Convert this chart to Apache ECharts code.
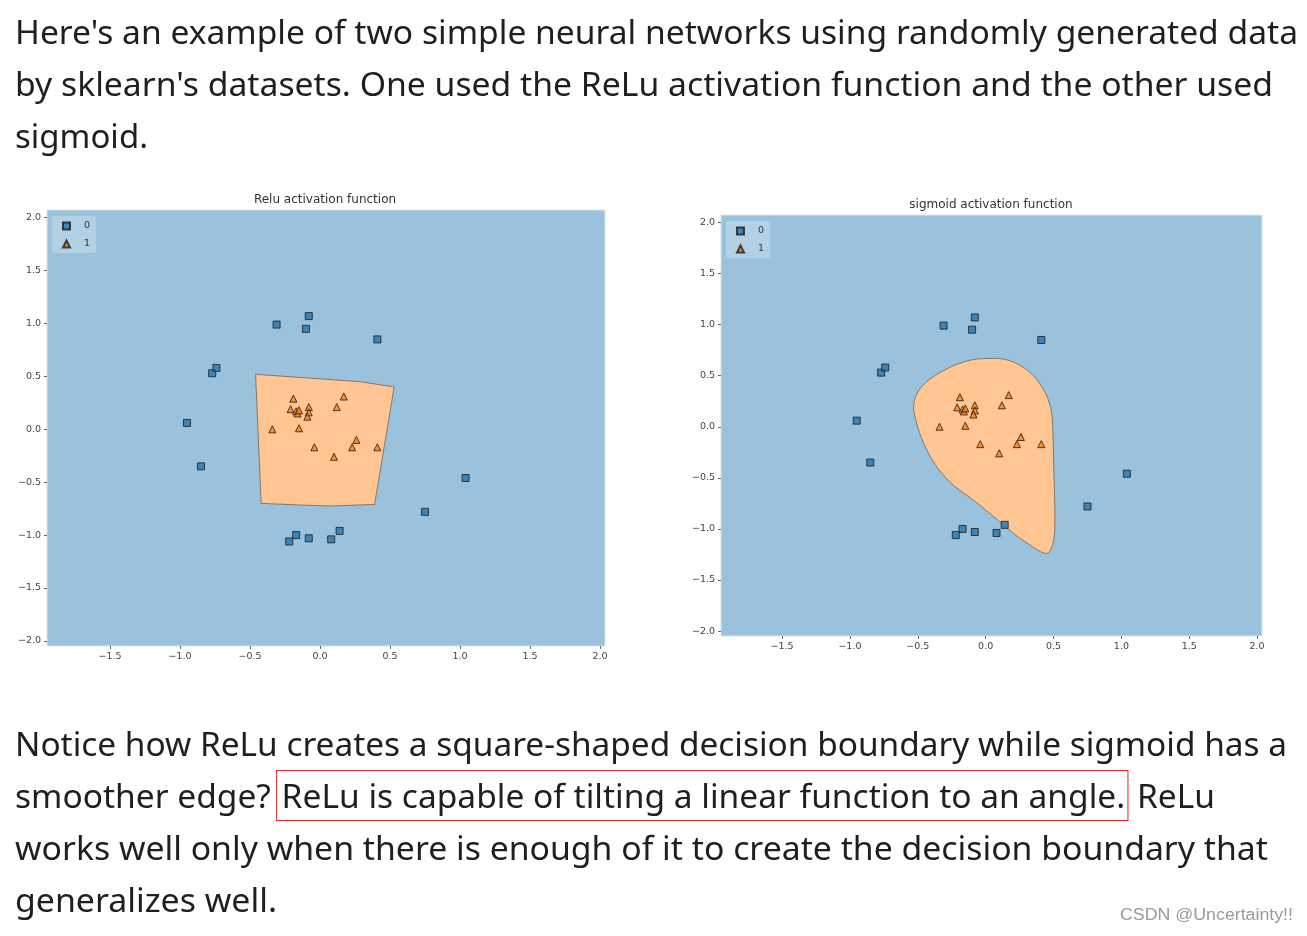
<!DOCTYPE html>
<html>
<head>
<meta charset="utf-8">
<script src="https://cdn.jsdelivr.net/npm/echarts@6/dist/echarts.min.js"></script>
<style>
  html, body { margin: 0; padding: 0; background: #fff; }
  #page { position: relative; width: 1307px; height: 936px; overflow: hidden; }
  #chart { position: absolute; left: 0; top: 0; width: 1307px; height: 936px; }
  .ln {
    position: absolute; left: 15px; white-space: nowrap;
    font-family: 'Noto Sans', sans-serif; font-size: 33px; line-height: 52px;
    color: #1f1f1f; transform-origin: 0 50%;
  }
  .hl { display: inline-block; line-height: 49px; border: 1.5px solid #e0262b; padding: 0 2px 0 4px; margin-left: -3px; }
  .wm {
    position: absolute; left: 1120px; top: 906px; white-space: nowrap;
    font-family: 'Liberation Sans', Arial, sans-serif; font-size: 16px; color: #9a9a9a;
    transform-origin: 0 50%;
  }
</style>
</head>
<body>
<div id="page">
  <div id="chart"></div>
  <div class="ln" style="top:6px" data-w="1283">Here's an example of two simple neural networks using randomly generated data</div>
  <div class="ln" style="top:58px" data-w="1258">by sklearn's datasets. One used the ReLu activation function and the other used</div>
  <div class="ln" style="top:110px" data-w="133">sigmoid.</div>
  <div class="ln" style="top:718px" data-w="1272">Notice how ReLu creates a square-shaped decision boundary while sigmoid has a</div>
  <div class="ln" style="top:770px" data-w="1200">smoother edge? <span class="hl">ReLu is capable of tilting a linear function to an angle.</span> ReLu</div>
  <div class="ln" style="top:822px" data-w="1253">works well only when there is enough of it to create the decision boundary that</div>
  <div class="ln" style="top:874px" data-w="262">generalizes well.</div>
  <div class="wm" data-w="173">CSDN @Uncertainty!!</div>
</div>
<script>
// 刻度
const xTicks = [-1.5, -1.0, -0.5, 0.0, 0.5, 1.0, 1.5, 2.0]
const yTicks = [-2.0, -1.5, -1.0, -0.5, 0.0, 0.5, 1.0, 1.5, 2.0]

// 类别 0（方块）
const class0 = [
  [-0.31, 0.99], [-0.08, 1.07], [-0.10, 0.95], [0.41, 0.85],
  [-0.77, 0.53], [-0.74, 0.58], [-0.95, 0.06], [-0.85, -0.35],
  [1.04, -0.46], [0.75, -0.78], [-0.22, -1.06], [-0.17, -1.00],
  [-0.08, -1.03], [0.08, -1.04], [0.14, -0.96]
]
// 类别 1（三角）
const class1 = [
  [-0.19, 0.29], [0.17, 0.31], [-0.21, 0.19], [-0.17, 0.17],
  [-0.16, 0.15], [-0.15, 0.18], [-0.08, 0.21], [-0.08, 0.16],
  [-0.09, 0.12], [0.12, 0.21], [-0.34, 0.00], [-0.15, 0.01],
  [-0.04, -0.17], [0.10, -0.26], [0.26, -0.10], [0.23, -0.17],
  [0.41, -0.17]
]
// relu 决策区域（多边形顶点）
const reluRegion = [
  [-0.46, 0.52], [-0.14, 0.49], [0.29, 0.45], [0.53, 0.40],
  [0.39, -0.71], [0.07, -0.725], [-0.14, -0.715], [-0.42, -0.70]
]
// sigmoid 决策区域（平滑轮廓）
const sigmoidRegion = [
  [0.03, 0.67], [0.17, 0.65], [0.31, 0.55], [0.42, 0.38], [0.48, 0.18],
  [0.495, -0.05], [0.50, -0.30], [0.505, -0.55], [0.51, -0.89], [0.50, -1.12],
  [0.46, -1.235], [0.40, -1.22], [0.33, -1.16], [0.24, -1.08], [0.14, -0.97],
  [0.05, -0.87], [-0.05, -0.76], [-0.14, -0.67], [-0.23, -0.58], [-0.32, -0.46],
  [-0.40, -0.31], [-0.46, -0.15], [-0.51, 0.04], [-0.53, 0.22], [-0.48, 0.38],
  [-0.35, 0.52], [-0.15, 0.64]
]

// 每行文字按参考宽度拉伸
document.querySelectorAll('[data-w]').forEach(el => {
  const w = el.getBoundingClientRect().width
  el.style.transform = 'scaleX(' + (+el.dataset.w / w) + ')'
})

const fmt = v => (v < 0 ? '\u2212' : '') + Math.abs(v).toFixed(1)
const tickFont = { fontSize: 9.5, color: '#444', fontFamily: 'DejaVu Sans' }

function xAxisFor(i) {
  return {
    gridIndex: i, type: 'value', min: -1.95, max: 2.036,
    splitLine: { show: false }, axisLine: { show: false, onZero: false },
    axisTick: { show: true, length: 3, lineStyle: { color: '#666' }, customValues: xTicks },
    axisLabel: Object.assign({ customValues: xTicks, formatter: fmt, margin: 6 }, tickFont)
  }
}
function yAxisFor(i) {
  return {
    gridIndex: i, type: 'value', min: -2.048, max: 2.073,
    splitLine: { show: false }, axisLine: { show: false, onZero: false },
    axisTick: { show: true, length: 3, lineStyle: { color: '#666' }, customValues: yTicks },
    axisLabel: Object.assign({ customValues: yTicks, formatter: fmt, margin: 6 }, tickFont)
  }
}
function regionSeries(i, region, smooth) {
  return {
    type: 'custom', xAxisIndex: i, yAxisIndex: i, data: [[0, 0]], silent: true, z: 1, clip: true,
    renderItem: (params, api) => ({
      type: 'polygon',
      shape: { points: region.map(p => api.coord(p)), smooth: smooth },
      style: { fill: '#ffc592', stroke: 'rgba(110,95,80,0.75)', lineWidth: 1 }
    })
  }
}
function pointSeries(i) {
  return [
    {
      name: '0', type: 'scatter', xAxisIndex: i, yAxisIndex: i, data: class0, z: 3,
      symbol: 'rect', symbolSize: 7,
      itemStyle: { color: '#1f77b4', borderColor: '#1a1a1a', borderWidth: 1 }
    },
    {
      name: '1', type: 'scatter', xAxisIndex: i, yAxisIndex: i, data: class1, z: 3,
      symbol: 'triangle', symbolSize: 7,
      itemStyle: { color: '#ff7f0e', borderColor: '#1a1a1a', borderWidth: 1 }
    }
  ]
}
function legendFor(left, top) {
  return {
    orient: 'vertical', left: left, top: top, data: ['0', '1'],
    backgroundColor: 'rgba(255,255,255,0.25)', borderRadius: 3,
    padding: [5, 6, 4, 10], itemWidth: 7, itemHeight: 7, itemGap: 8,
    textStyle: { fontSize: 9.5, color: '#333', fontFamily: 'DejaVu Sans', padding: [0, 0, 0, 9] }
  }
}

const myChart = echarts.init(document.getElementById('chart'))
myChart.setOption({
  animation: false,
  grid: [
    { left: 47, top: 210, width: 558, height: 436, show: true, backgroundColor: '#9ac2dd', borderColor: '#d6e6f2', borderWidth: 1 },
    { left: 721, top: 215, width: 541, height: 421, show: true, backgroundColor: '#9ac2dd', borderColor: '#d6e6f2', borderWidth: 1 }
  ],
  xAxis: [xAxisFor(0), xAxisFor(1)],
  yAxis: [yAxisFor(0), yAxisFor(1)],
  legend: [legendFor(52, 216), legendFor(726, 221)],
  graphic: [
    { type: 'text', x: 325, y: 200, style: { text: 'Relu activation function', align: 'center', verticalAlign: 'middle', font: '12px "DejaVu Sans"', fill: '#333' } },
    { type: 'text', x: 991, y: 205, style: { text: 'sigmoid activation function', align: 'center', verticalAlign: 'middle', font: '12px "DejaVu Sans"', fill: '#333' } }
  ],
  series: [
    regionSeries(0, reluRegion, 0),
    ...pointSeries(0),
    regionSeries(1, sigmoidRegion, 0.35),
    ...pointSeries(1)
  ]
})
</script>
</body>
</html>
